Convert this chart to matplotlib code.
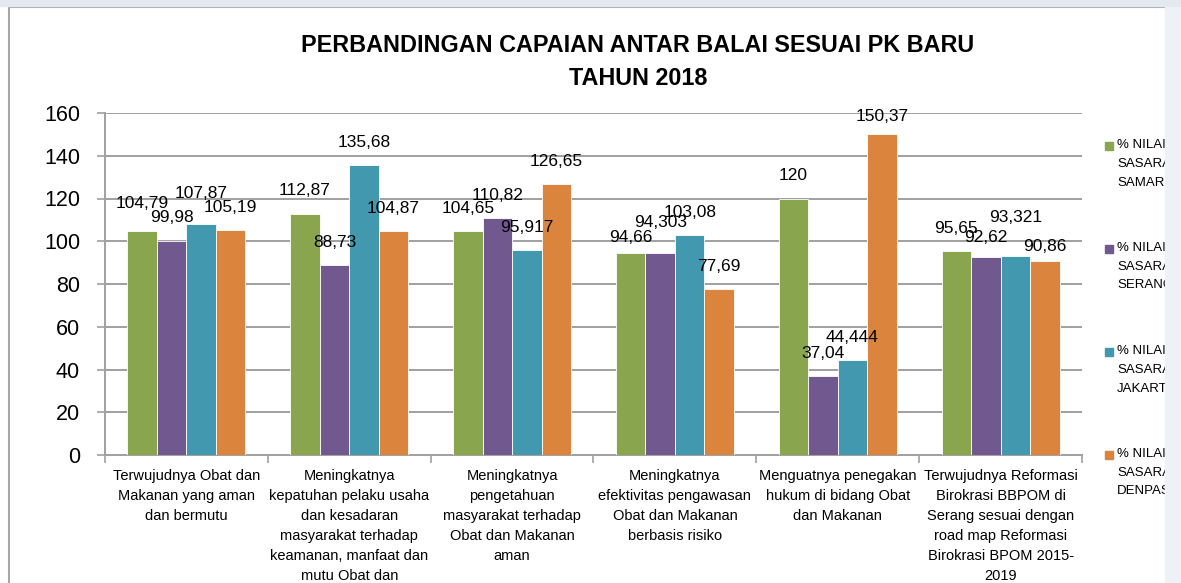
import matplotlib.pyplot as plt
from matplotlib.patches import Rectangle
import numpy as np

# data
kategori = [
    "Terwujudnya Obat dan\nMakanan yang aman\ndan bermutu",
    "Meningkatnya\nkepatuhan pelaku usaha\ndan kesadaran\nmasyarakat terhadap\nkeamanan, manfaat dan\nmutu Obat dan\nMakanan",
    "Meningkatnya\npengetahuan\nmasyarakat terhadap\nObat dan Makanan\naman",
    "Meningkatnya\nefektivitas pengawasan\nObat dan Makanan\nberbasis risiko",
    "Menguatnya penegakan\nhukum di bidang Obat\ndan Makanan",
    "Terwujudnya Reformasi\nBirokrasi BBPOM di\nSerang sesuai dengan\nroad map Reformasi\nBirokrasi BPOM 2015-\n2019",
]
samarinda = [104.79, 112.87, 104.65, 94.66, 120, 95.65]
serang = [99.98, 88.73, 110.82, 94.303, 37.04, 92.62]
jakarta = [107.87, 135.68, 95.917, 103.08, 44.444, 93.321]
denpasar = [105.19, 104.87, 126.65, 77.69, 150.37, 90.86]
seri_nama = ["% NILAI\nSASARAN\nSAMARINDA", "% NILAI\nSASARAN\nSERANG",
             "% NILAI\nSASARAN\nJAKARTA", "% NILAI\nSASARAN\nDENPASAR"]
warna = ['#89A54E', '#71588F', '#4198AF', '#DB843D']

# label nudges (pixels) where Excel moved labels around
geser = [[5, 1, 0, -7, 0, 0],
         [1, 0, 0, 8, 0, -3],
         [8, 0, 0, 0, 0, 16],
         [0, 0, 0, 0, -5, -8]]

plt.rcParams['font.family'] = 'Liberation Sans'

W, H = 1181, 583
fig = plt.figure(figsize=(W / 100, H / 100), dpi=100)
ax = fig.add_axes([105 / W, 1 - 455 / H, (1082 - 105) / W, (455 - 113) / H])

semua = [samarinda, serang, jakarta, denpasar]
x = np.arange(len(kategori))
lebar = 0.181
for i, (vals, c) in enumerate(zip(semua, warna)):
    pos = x + (i - 1.5) * lebar
    ax.bar(pos, vals, width=lebar, color=c, edgecolor='white', linewidth=0.6, zorder=3)
    for j, (px, v) in enumerate(zip(pos, vals)):
        teks = ('%g' % v).replace('.', ',')
        ax.annotate(teks, (px, v), xytext=(0, 22.5 + geser[i][j]), textcoords='offset pixels',
                    ha='center', va='center', fontsize=12.5, color='black', zorder=5)

ax.set_ylim(0, 160)
ax.set_xlim(-0.5, len(kategori) - 0.5)
ax.set_yticks(np.arange(0, 161, 20))
ax.tick_params(axis='y', labelsize=15.5, length=6, width=1.2, color='#a0a0a0', pad=12)
ax.yaxis.grid(True, color='#a0a0a0', linewidth=1.4, zorder=0)
ax.set_axisbelow(True)

ax.set_xticks(x)
ax.set_xticklabels(kategori, fontsize=10.5, linespacing=1.54)
ax.set_xticks(np.arange(-0.5, len(kategori)), minor=True)
ax.tick_params(axis='x', which='major', length=0, pad=10)
ax.tick_params(axis='x', which='minor', length=6, width=1.2, color='#a0a0a0')

for s in ['top', 'right']:
    ax.spines[s].set_visible(False)
for s in ['left', 'bottom']:
    ax.spines[s].set_color('#a0a0a0')
    ax.spines[s].set_linewidth(1.4)

fig.text(638 / W, 1 - 62 / H, "PERBANDINGAN CAPAIAN ANTAR BALAI SESUAI PK BARU\nTAHUN 2018",
         ha='center', va='center', fontsize=16.8, fontweight='bold', linespacing=1.6)

# legend drawn by hand so the square sits on the first line
for k, (nama, c) in enumerate(zip(seri_nama, warna)):
    ytop = 146 + k * 103
    fig.patches.append(Rectangle((1105 / W, 1 - (ytop + 4) / H), 8 / W, 8 / H,
                                 transform=fig.transFigure, color=c))
    fig.text(1117 / W, 1 - (ytop - 7) / H, nama, ha='left', va='top', fontsize=9.5,
             linespacing=1.75)

# chart frame and clipped page edge
fig.patches.append(Rectangle((9 / W, -0.1), 1.2, 1.1 - 7 / H, transform=fig.transFigure,
                             fill=False, edgecolor='#a6a6a6', linewidth=1.5))
fig.patches.append(Rectangle((0, 1 - 6 / H), 1, 6 / H, transform=fig.transFigure,
                             color='#e3e9ee', zorder=10))
fig.add_artist(Rectangle((1165 / W, 0), 16 / W, 1, transform=fig.transFigure,
                         color='#eef2f6', zorder=10))

fig.savefig('out.png', dpi=100)
